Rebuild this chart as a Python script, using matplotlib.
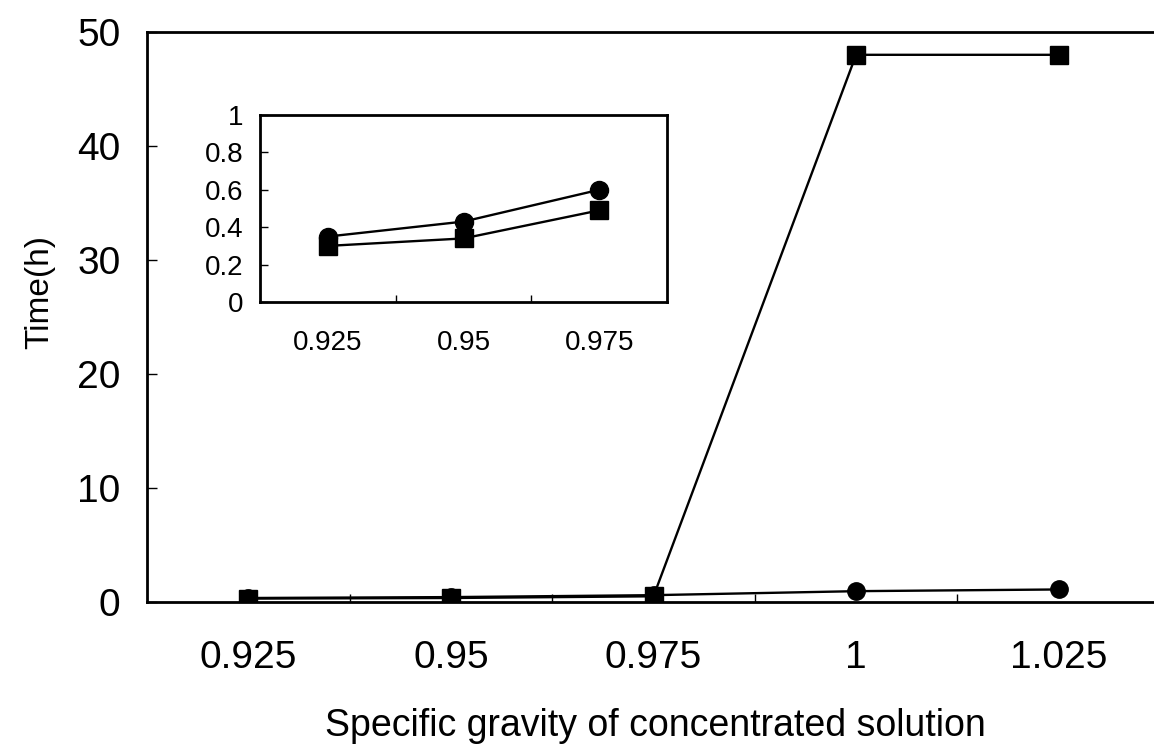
import matplotlib
matplotlib.use("Agg")
import matplotlib.pyplot as plt
from matplotlib.ticker import FixedLocator

plt.rcParams['font.family'] = ['Liberation Sans', 'DejaVu Sans']

categories = ["0.925", "0.95", "0.975", "1", "1.025"]
square_vals = [0.3, 0.35, 0.5, 48, 48]
circle_vals = [0.35, 0.43, 0.6, 0.95, 1.1]

inset_categories = ["0.925", "0.95", "0.975"]
inset_square = [0.3, 0.34, 0.49]
inset_circle = [0.35, 0.43, 0.6]

main_yticks = [0, 10, 20, 30, 40, 50]
inset_yticks = [0, 0.2, 0.4, 0.6, 0.8, 1]
inset_yticklabels = ["0", "0.2", "0.4", "0.6", "0.8", "1"]

W, H = 1154, 755
fig = plt.figure(figsize=(W / 100, H / 100), dpi=100)

def rect(x0, y0, x1, y1):
    return [x0 / W, 1 - y1 / H, (x1 - x0) / W, (y1 - y0) / H]

ax = fig.add_axes(rect(147, 32, 1160, 602))
x = list(range(len(categories)))
ax.plot(x, circle_vals, color='black', lw=1.7, marker='o', ms=12.5, zorder=3)
ax.plot(x, square_vals, color='black', lw=1.7, marker='s', ms=12.5, zorder=3)
ax.set_xlim(-0.5, len(categories) - 0.5)
ax.set_ylim(0, 50)
ax.set_yticks(main_yticks)
ax.set_yticklabels([str(v) for v in main_yticks])
ax.set_xticks(x)
ax.set_xticklabels(categories)
ax.xaxis.set_minor_locator(FixedLocator([i + 0.5 for i in range(len(categories) - 1)]))
ax.tick_params(axis='x', which='major', length=0, pad=27, labelsize=28)
ax.tick_params(axis='x', which='minor', direction='in', length=6, width=1)
ax.tick_params(axis='y', which='major', direction='in', length=7, width=1, pad=19, labelsize=28)
for s in ['left', 'top', 'bottom']:
    ax.spines[s].set_linewidth(2)
ax.spines['right'].set_visible(False)

fig.text(40 / W, 1 - 292 / H, "Time(h)", rotation=90, ha='center', va='center', fontsize=24)
fig.text(655 / W, 1 - 726 / H, "Specific gravity of concentrated solution",
         ha='center', va='center', fontsize=27)

axi = fig.add_axes(rect(260, 115, 667, 302))
xi = list(range(len(inset_categories)))
axi.plot(xi, inset_circle, color='black', lw=1.7, marker='o', ms=13, zorder=3)
axi.plot(xi, inset_square, color='black', lw=1.7, marker='s', ms=13, zorder=3)
axi.set_xlim(-0.5, len(inset_categories) - 0.5)
axi.set_ylim(0, 1)
axi.set_yticks(inset_yticks)
axi.set_yticklabels(inset_yticklabels)
axi.set_xticks(xi)
axi.set_xticklabels(inset_categories)
axi.xaxis.set_minor_locator(FixedLocator([i + 0.5 for i in range(len(inset_categories) - 1)]))
axi.tick_params(axis='x', which='major', length=0, pad=20, labelsize=20)
axi.tick_params(axis='x', which='minor', direction='in', length=5, width=1)
axi.tick_params(axis='y', which='major', direction='in', length=6, width=1, pad=12, labelsize=20)
for s in axi.spines.values():
    s.set_linewidth(2)

fig.savefig("out.png", dpi=100)
